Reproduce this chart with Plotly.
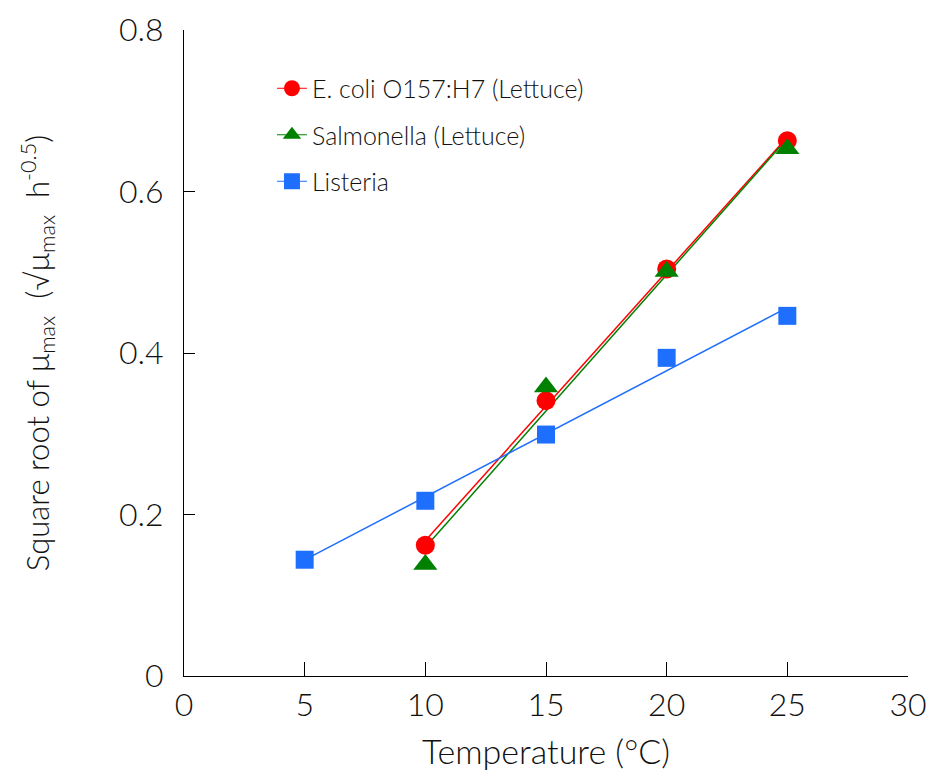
import numpy as np
import plotly.graph_objects as go

# Data
temp_ecoli = [10, 15, 20, 25]
sqrt_mu_ecoli = [0.162, 0.341, 0.504, 0.663]

temp_salm = [10, 15, 20, 25]
sqrt_mu_salm = [0.138, 0.358, 0.501, 0.653]

temp_list = [5, 10, 15, 20, 25]
sqrt_mu_list = [0.144, 0.217, 0.299, 0.394, 0.446]

series_names = ["E. coli O157:H7 (Lettuce)", "Salmonella (Lettuce)", "Listeria"]
x_ticks = [0, 5, 10, 15, 20, 25, 30]
y_ticks = [0, 0.2, 0.4, 0.6, 0.8]
y_tick_labels = ["0", "0.2", "0.4", "0.6", "0.8"]

FONT = "Lato"
WEIGHT = 300
series = [
    (temp_ecoli, sqrt_mu_ecoli, "#ff0000", "circle", 19),
    (temp_salm, sqrt_mu_salm, "#008000", "triangle-up", 21),
    (temp_list, sqrt_mu_list, "#1f6fff", "square", 18),
]

fig = go.Figure()
for i, (xs, ys, col, sym, ms) in enumerate(series):
    # linear trend line fitted to the data
    k, b = np.polyfit(xs, ys, 1)
    xf = [min(xs), max(xs)]
    yf = [k * v + b for v in xf]
    fig.add_trace(go.Scatter(x=xf, y=yf, mode="lines",
                             line=dict(color=col, width=1.5),
                             showlegend=False, hoverinfo="skip"))
for i, (xs, ys, col, sym, ms) in enumerate(series):
    fig.add_trace(go.Scatter(x=xs, y=ys, mode="markers",
                             marker=dict(color=col, symbol=sym, size=ms),
                             showlegend=False, name=series_names[i]))
    # legend entry (line + marker)
    fig.add_trace(go.Scatter(x=[None], y=[None], mode="lines+markers",
                             marker=dict(color=col, symbol=sym, size=ms),
                             line=dict(color=col, width=1),
                             name=series_names[i], legendgroup=f"g{i}",
                             showlegend=True))

fig.update_layout(
    width=931, height=778,
    paper_bgcolor="white", plot_bgcolor="white",
    margin=dict(l=184, r=23, t=30, b=102),
    font=dict(family=FONT, color="#111111", weight=WEIGHT),
    showlegend=True,
    legend=dict(x=0.1215, y=0.945, xanchor="left", yanchor="top",
                font=dict(size=25, family=FONT, color="#111111", weight=WEIGHT),
                traceorder="grouped", tracegroupgap=11,
                bgcolor="rgba(0,0,0,0)"),
    xaxis=dict(range=[0, 30], tickvals=x_ticks, ticks="inside", ticklen=14,
               tickcolor="black", tickwidth=1, showline=True, linecolor="black",
               linewidth=1, showgrid=False, zeroline=False, automargin=False,
               tickfont=dict(size=32, family=FONT, weight=WEIGHT), ticklabelstandoff=1,
               title=dict(text="Temperature (°C)",
                          font=dict(size=34, family=FONT, weight=WEIGHT),
                          standoff=17)),
    yaxis=dict(range=[0, 0.8], tickvals=y_ticks, ticktext=y_tick_labels,
               ticks="inside", ticklen=11,
               tickcolor="black", tickwidth=1, showline=True, linecolor="black",
               linewidth=1, showgrid=False, zeroline=False, automargin=False,
               tickfont=dict(size=32, family=FONT, weight=WEIGHT), ticklabelstandoff=13,
               title=dict(text="Square root of μ<sub>max</sub>  (√μ<sub>max</sub>  h<sup>-0.5</sup>)",
                          font=dict(size=31, family=FONT, weight=WEIGHT), standoff=60)),
)

fig.write_html("out.html", config={"displayModeBar": False},
               post_script="document.body.style.margin='0';")
